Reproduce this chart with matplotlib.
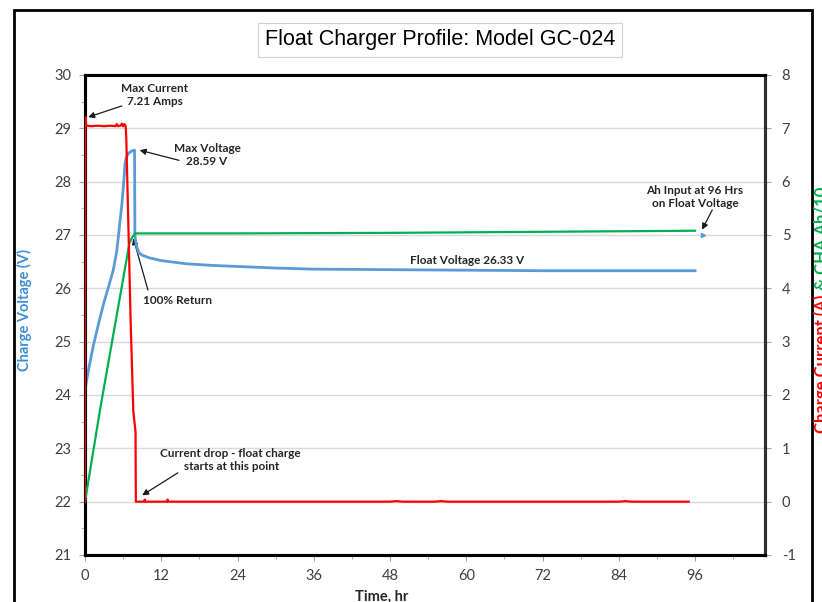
import matplotlib
matplotlib.use('Agg')
import matplotlib.pyplot as plt
from matplotlib.patches import Rectangle
from matplotlib.ticker import MultipleLocator

# Charge voltage (left axis, V)
volt_t = [0, 0.6, 1.3, 2.1, 2.9, 3.7, 4.45, 5.0, 5.25, 5.5, 5.77, 6.0, 6.2, 6.3, 6.5, 6.8, 7.2, 7.5, 7.8, 7.85, 8.0, 8.4, 9, 10.2, 12, 16, 20, 24, 30, 36, 48, 60, 72, 84, 96]
volt = [24.1, 24.5, 24.92, 25.32, 25.7, 26.03, 26.34, 26.7, 26.97, 27.25, 27.53, 27.85, 28.16, 28.34, 28.45, 28.53, 28.56, 28.58, 28.59, 27.0, 26.85, 26.68, 26.62, 26.57, 26.52, 26.46, 26.43, 26.41, 26.38, 26.36, 26.35, 26.34, 26.33, 26.33, 26.33]

# Charge current (right axis, A)
curr_t = [0, 0.05, 0.2, 1, 2, 3, 4, 4.8, 5.0, 5.2, 5.6, 5.8, 6.0, 6.2, 6.4, 6.5, 7.2, 7.6, 7.95, 8.0, 9.3, 9.4, 9.5, 12.9, 13.0, 13.1, 48, 49, 50, 55, 56, 57, 84, 85, 86, 95]
curr = [0, 7.21, 7.05, 7.04, 7.05, 7.04, 7.05, 7.04, 7.08, 7.04, 7.05, 7.09, 7.04, 7.08, 7.04, 6.8, 3.3, 1.7, 1.3, 0.0, 0.0, 0.04, 0.0, 0.0, 0.04, 0.0, 0.0, 0.01, 0.0, 0.0, 0.01, 0.0, 0.0, 0.01, 0.0, 0.0]

# Charge Ah / 10 (right axis)
ah_t = [0, 2.36, 7.0, 7.4, 7.9, 24, 48, 72, 96]
ah = [0, 1.72, 4.85, 4.95, 5.03, 5.03, 5.04, 5.06, 5.08]

x_ticks = [0, 12, 24, 36, 48, 60, 72, 84, 96]

BLUE = '#5b9bd5'
RED = '#ff0000'
GREEN = '#00b050'
TXT = '#262626'

plt.rcParams['font.family'] = ['Lato', 'DejaVu Sans']
plt.rcParams['axes.unicode_minus'] = False

fig = plt.figure(figsize=(8.22, 6.02), dpi=100, facecolor='white')
ax = fig.add_axes([85 / 822, 1 - 555 / 602, 680 / 822, 480 / 602])
ax2 = ax.twinx()

ax.set_xlim(0, 107)
ax.set_ylim(21, 30)
ax2.set_ylim(-1, 8)
ax.set_xticks(x_ticks)
ax.xaxis.set_minor_locator(MultipleLocator(6))
ax.set_yticks(range(21, 31))
ax.yaxis.set_minor_locator(MultipleLocator(0.5))
ax2.set_yticks(range(-1, 9))
ax.grid(axis='y', color='#d9d9d9', lw=1)
ax.set_axisbelow(True)

for a in (ax, ax2):
    a.tick_params(which='both', direction='out', color='#a0a0a0', labelsize=10.5, labelcolor='#404040')
    a.tick_params(which='major', length=4)
    a.tick_params(which='minor', length=3)
    for s in a.spines.values():
        s.set_linewidth(2.2)
        s.set_color('black')
ax2.spines['right'].set_color('#303030')
ax.tick_params(axis='y', pad=6)
ax2.tick_params(axis='y', pad=8)
ax.tick_params(axis='x', pad=6)

ax2.plot(ah_t, ah, color=GREEN, lw=1.6, zorder=3)
ax.plot(volt_t, volt, color=BLUE, lw=2.0, zorder=4)
ax2.plot(curr_t, curr, color=RED, lw=1.6, zorder=5)
ax2.plot([97.3], [5.0], marker='>', color=BLUE, ms=3)

ann = dict(fontsize=8.5, fontweight='bold', color=TXT, ha='center', va='center', linespacing=1.25)
arrow = dict(arrowstyle='-|>', color='#1a1a1a', lw=0.9, mutation_scale=9, shrinkA=0, shrinkB=0)

ax.text(11.0, 29.62, 'Max Current\n7.21 Amps', **ann)
ax.annotate('', xy=(0.5, 29.21), xytext=(5.8, 29.42), arrowprops=arrow)

ax.text(19.2, 28.5, 'Max Voltage\n28.59 V', **ann)
ax.annotate('', xy=(8.6, 28.59), xytext=(14.8, 28.4), arrowprops=arrow)

ax.text(14.6, 25.78, '100% Return', **ann)
ax.annotate('', xy=(7.6, 26.94), xytext=(9.9, 25.97), arrowprops=arrow)

ax.text(22.8, 22.78, 'Current drop - float charge\n starts at this point', **ann)
ax.annotate('', xy=(9.0, 22.12), xytext=(14.6, 22.54), arrowprops=arrow)

ax.text(60.1, 26.53, 'Float Voltage 26.33 V', **ann)

ax.text(96.0, 27.71, 'Ah Input at 96 Hrs\non Float Voltage', **ann)
ax.annotate('', xy=(97.1, 27.1), xytext=(98.7, 27.47), arrowprops=arrow)

fig.text(440 / 822, 1 - 40 / 602, 'Float Charger Profile: Model GC-024', fontsize=15.5,
         family=['Liberation Sans', 'DejaVu Sans'], ha='center', va='center', color='black',
         bbox=dict(boxstyle='square,pad=0.3', fc='white', ec='#d0d0d0', lw=0.8))

fig.text(24 / 822, 1 - 310 / 602, 'Charge Voltage (V)', rotation=90, color='#3d8fd6',
         fontsize=10.5, fontweight='bold', ha='center', va='center')
fig.text(382 / 822, 1 - 597 / 602, 'Time, hr', fontsize=10.5, fontweight='bold',
         color=TXT, ha='center', va='center')

red_lab = fig.text(813 / 822, 1 - 433 / 602, 'Charge Current (A)', rotation=90, color=RED,
                   fontsize=12, fontweight='bold', ha='left', va='bottom')
fig.canvas.draw()
bb = red_lab.get_window_extent().transformed(fig.transFigure.inverted())
fig.text(813 / 822, bb.y1 + 0.007, '& CHA Ah/10', rotation=90, color=GREEN,
         fontsize=12, fontweight='bold', ha='left', va='bottom')

# outer frame of the screenshot
fig.patches.append(Rectangle((14 / 822, -0.05), (812 - 14) / 822, 1 - 10 / 602 + 0.05,
                             transform=fig.transFigure, fill=False, ec='black', lw=2))

fig.savefig('out.png', dpi=100)
